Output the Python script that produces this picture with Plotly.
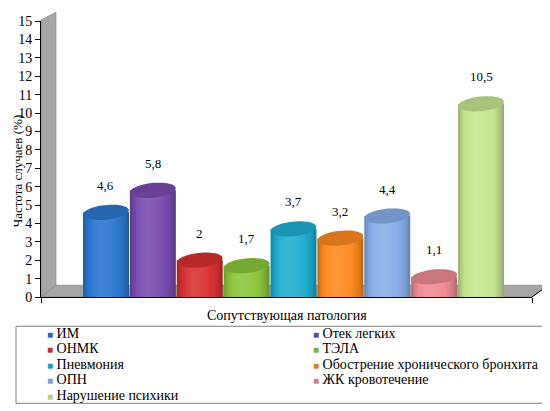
import numpy as np
import plotly.graph_objects as go

# --- data ---
categories = ['ИМ', 'Отек легких', 'ОНМК', 'ТЭЛА', 'Пневмония',
              'Обострение хронического бронхита', 'ОПН', 'ЖК кровотечение',
              'Нарушение психики']
values = [4.6, 5.8, 2, 1.7, 3.7, 3.2, 4.4, 1.1, 10.5]
colors = ['#2b78d0', '#7a4cb0', '#d83232', '#8cc63c', '#20aed0',
          '#ff8a20', '#88aeea', '#ee8c92', '#c6e690']
y_ticks = list(range(0, 16))
y_title = 'Частота случаев (%)'
x_title = 'Сопутствующая патология'

# the page body keeps its default 8px margin, so the figure is drawn
# 8px smaller and every pixel position below is shifted by that much
PAGE_W, PAGE_H, BODY = 550, 411, 8
FIG_W, FIG_H = PAGE_W - BODY, PAGE_H - BODY

# plot area in page pixels (left, right, top, bottom)
L, R, T, B = 41, 532, 14, 297
X_RANGE = [-1.386, 9.087]
Y_RANGE = [0, 15]
FONT = 'Liberation Serif, Times New Roman, serif'


def px_x(px):
    return (px - L) / (R - L)


def px_y(py):
    return (B - py) / (B - T)


def shade(hex_color, k):
    """k<0 darkens toward black, k>0 lightens toward white"""
    r, g, b = (int(hex_color[i:i + 2], 16) for i in (1, 3, 5))
    if k < 0:
        r, g, b = (c * (1 + k) for c in (r, g, b))
    else:
        r, g, b = (c + (255 - c) * k for c in (r, g, b))
    return f'rgb({r:.0f},{g:.0f},{b:.0f})'


fig = go.Figure()

# cylinders: each bar built from thin vertical strips with cylinder shading
idx = list(range(len(categories)))
N_STRIPS = 24
BAR_W = 0.98
step = BAR_W / N_STRIPS
for i in range(N_STRIPS):
    s = (i + 0.5) / N_STRIPS
    if s < 0.38:
        g = np.cos((0.38 - s) / 0.38 * np.pi / 2)
    else:
        g = np.cos((s - 0.38) / 0.62 * np.pi / 2)
    k = -0.3 + 0.4 * g ** 0.6
    start = -BAR_W / 2 + i * step
    fig.add_trace(go.Bar(
        x=idx, y=values,
        width=min(step * 1.6, BAR_W / 2 - start),
        offset=start,
        marker=dict(color=[shade(c, k) for c in colors], line_width=0),
        showlegend=False, hoverinfo='skip'
    ))

# tilted ellipse on top of each cylinder
ux = (R - L) / (X_RANGE[1] - X_RANGE[0])
uy = (B - T) / (Y_RANGE[1] - Y_RANGE[0])
a_px, b_px, tilt = BAR_W * ux / 2, 7.5, np.radians(6)
t = np.linspace(0, 2 * np.pi, 48)
for i, (v, c) in enumerate(zip(values, colors)):
    dx = a_px * np.cos(t) * np.cos(tilt) - b_px * np.sin(t) * np.sin(tilt)
    dy = a_px * np.cos(t) * np.sin(tilt) + b_px * np.sin(t) * np.cos(tilt)
    pts = [f'{i + x / ux:.4f},{v + y / uy:.4f}' for x, y in zip(dx, dy)]
    fig.add_shape(type='path', path='M' + 'L'.join(pts) + 'Z',
                  xref='x', yref='y', fillcolor=shade(c, -0.15), line_width=0)

# value labels
for i, v in enumerate(values):
    fig.add_annotation(x=i, y=v, text=f'{v:g}'.replace('.', ','),
                       showarrow=False, yshift=27, font=dict(size=13))


def paper_path(points):
    return 'M' + 'L'.join(f'{px_x(x):.4f},{px_y(y):.4f}' for x, y in points) + 'Z'


# 3D floor and side wall
fig.add_shape(type='path', xref='paper', yref='paper', layer='below',
              path=paper_path([(41, 297), (41, 13), (56, 5), (56, 285)]),
              fillcolor='#a6a6a6', line=dict(color='#8c8c8c', width=0.8))
fig.add_shape(type='path', xref='paper', yref='paper', layer='below',
              path=paper_path([(41, 297), (56, 285), (548, 285), (532, 297)]),
              fillcolor='#a6a6a6', line=dict(color='#8c8c8c', width=0.8))
fig.add_shape(type='line', xref='paper', yref='paper',
              x0=px_x(532), y0=px_y(297), x1=px_x(548), y1=px_y(285),
              line=dict(color='black', width=1))

# legend box, two columns
fig.add_shape(type='rect', xref='paper', yref='paper', layer='below',
              x0=px_x(16), y0=px_y(327), x1=px_x(547), y1=px_y(406),
              fillcolor='white', line=dict(color='#808080', width=1))
row_y = [334, 350, 366, 382, 398]
col_x = [45, 311]
for i, (name, c) in enumerate(zip(categories, colors)):
    fig.add_annotation(
        xref='paper', yref='paper', x=px_x(col_x[i % 2]), y=px_y(row_y[i // 2]),
        xanchor='left', yanchor='middle', showarrow=False,
        text=(f'<span style="color:{shade(c, -0.1)};font-size:10px">■</span>'
              f' {name}'),
        font=dict(size=14)
    )

# axis titles
fig.add_annotation(xref='paper', yref='paper', x=px_x(17), y=px_y(168),
                   xanchor='center', yanchor='middle',
                   text=y_title, textangle=-90, showarrow=False,
                   font=dict(size=13))
fig.add_annotation(xref='paper', yref='paper', x=px_x(287), y=px_y(316),
                   xanchor='center', yanchor='middle',
                   text=x_title, showarrow=False, font=dict(size=14))

fig.update_layout(
    width=FIG_W, height=FIG_H,
    margin=dict(l=L - BODY, r=PAGE_W - R, t=T - BODY, b=PAGE_H - B),
    paper_bgcolor='white', plot_bgcolor='rgba(0,0,0,0)',
    barmode='overlay', showlegend=False,
    font=dict(family=FONT, size=13, color='black'),
    xaxis=dict(range=X_RANGE, showgrid=False, zeroline=False,
               showline=True, linecolor='black', linewidth=1,
               tickvals=X_RANGE, ticks='outside', ticklen=5,
               tickcolor='black', showticklabels=False),
    yaxis=dict(range=Y_RANGE, tickvals=y_ticks, showgrid=False,
               zeroline=False, showline=True, linecolor='black',
               linewidth=1, ticks='outside', ticklen=5, tickcolor='black',
               tickfont=dict(size=14), ticklabeloverflow='allow')
)

fig.write_html('out.html')
